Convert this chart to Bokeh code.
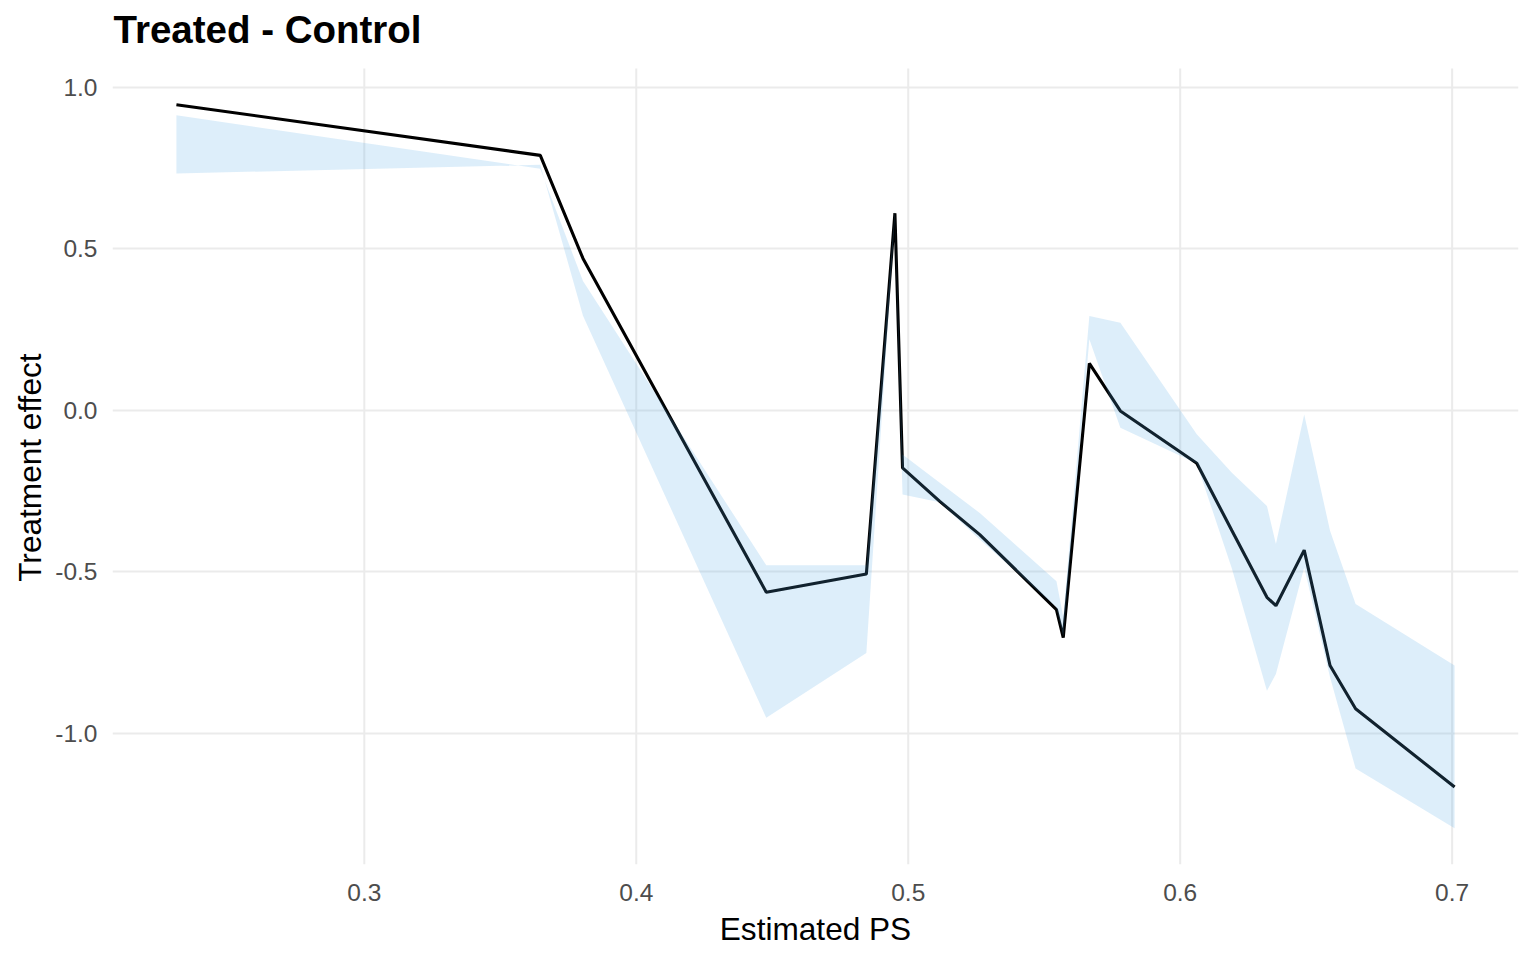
from bokeh.plotting import figure
from bokeh.models import Range1d, FixedTicker, Label
from bokeh.embed import file_html
from bokeh.resources import INLINE

# Data
ps = [0.2309, 0.3647, 0.3804, 0.4478, 0.4846, 0.4951, 0.4979, 0.5116, 0.5263,
      0.5545, 0.5570, 0.5666, 0.5780, 0.6061, 0.6190, 0.6319, 0.6352, 0.6456,
      0.6551, 0.6645, 0.7009]
effect = [0.946, 0.789, 0.470, -0.563, -0.507, 0.610, -0.178, -0.282, -0.385,
          -0.617, -0.704, 0.145, -0.002, -0.164, -0.372, -0.579, -0.605, -0.433,
          -0.790, -0.924, -1.166]
lower = [0.733, 0.760, 0.293, -0.952, -0.751, 0.600, -0.261, -0.285, -0.400,
         -0.610, -0.700, 0.220, -0.054, -0.165, -0.490, -0.868, -0.816, -0.487,
         -0.826, -1.109, -1.294]
upper = [0.913, 0.748, 0.400, -0.480, -0.480, 0.620, -0.137, -0.224, -0.318,
         -0.529, -0.640, 0.292, 0.271, -0.074, -0.193, -0.296, -0.414, -0.013,
         -0.373, -0.600, -0.790]

x_ticks = [0.3, 0.4, 0.5, 0.6, 0.7]
x_tick_labels = ["0.3", "0.4", "0.5", "0.6", "0.7"]
y_ticks = [-1.0, -0.5, 0.0, 0.5, 1.0]
y_tick_labels = ["-1.0", "-0.5", "0.0", "0.5", "1.0"]
title_text = "Treated - Control"
x_title = "Estimated PS"
y_title = "Treatment effect"

FONT = "Liberation Sans"
GRID = "#ebebeb"

W, H = 1528, 952
BL, BR, BB = 112, 10, 88
PANEL_TOP = 68          # panel starts this far below the canvas top
FRAME_H = H - BB        # frame reaches the canvas top; title sits inside it

xmin, xmax = min(ps), max(ps)
ymin, ymax = min(lower + upper + effect), max(lower + upper + effect)
xpad = (xmax - xmin) * 0.05
ypad = (ymax - ymin) * 0.05
ylo, yhi = ymin - ypad, ymax + ypad
ytop = yhi + PANEL_TOP / (FRAME_H - PANEL_TOP) * (yhi - ylo)

p = figure(width=W, height=H, output_backend="svg", toolbar_location=None,
           x_range=Range1d(xmin - xpad, xmax + xpad),
           y_range=Range1d(ylo, ytop),
           min_border_left=BL, min_border_right=BR,
           min_border_top=0, min_border_bottom=BB)

p.background_fill_color = "white"
p.border_fill_color = "white"
p.outline_line_color = None

# vertical grid lines limited to the panel
p.segment(x0=x_ticks, y0=[ylo] * len(x_ticks), x1=x_ticks, y1=[yhi] * len(x_ticks),
          line_color=GRID, line_width=2)

p.line(ps, effect, line_color="black", line_width=3.1)
p.varea(x=ps, y1=lower, y2=upper, fill_color=(85, 170, 230), fill_alpha=0.2)

title = Label(x=1, y=FRAME_H - 29, x_units="screen", y_units="screen",
              text=title_text, text_font=FONT, text_font_size="38.5px",
              text_font_style="bold", text_color="black",
              text_align="left", text_baseline="alphabetic")
p.add_layout(title)

for ax in (p.xaxis[0], p.yaxis[0]):
    ax.axis_line_color = None
    ax.major_tick_line_color = None
    ax.minor_tick_line_color = None
    ax.major_tick_out = 0
    ax.major_tick_in = 0
    ax.minor_tick_out = 0
    ax.minor_tick_in = 0
    ax.major_label_text_font = FONT
    ax.major_label_text_font_size = "24.5px"
    ax.major_label_text_color = "#4d4d4d"
    ax.axis_label_text_font = FONT
    ax.axis_label_text_font_size = "31.6px"
    ax.axis_label_text_font_style = "normal"
    ax.axis_label_text_color = "black"

p.xaxis.ticker = FixedTicker(ticks=x_ticks)
p.yaxis.ticker = FixedTicker(ticks=y_ticks)
p.xaxis.major_label_overrides = dict(zip(x_ticks, x_tick_labels))
p.yaxis.major_label_overrides = dict(zip(y_ticks, y_tick_labels))
p.xaxis.axis_label = x_title
# the frame extends above the panel, so pad the label to centre it on the panel
p.yaxis.axis_label = y_title + "\u00a0" * 8
p.xaxis.major_label_standoff = 19
p.yaxis.major_label_standoff = 15
p.xaxis.axis_label_standoff = 7
p.yaxis.axis_label_standoff = 4

p.xgrid.visible = False
p.ygrid.ticker = FixedTicker(ticks=y_ticks)
p.ygrid.grid_line_color = GRID
p.ygrid.grid_line_width = 2
p.ygrid.minor_grid_line_color = None

open("out.html", "w").write(file_html(p, INLINE))
